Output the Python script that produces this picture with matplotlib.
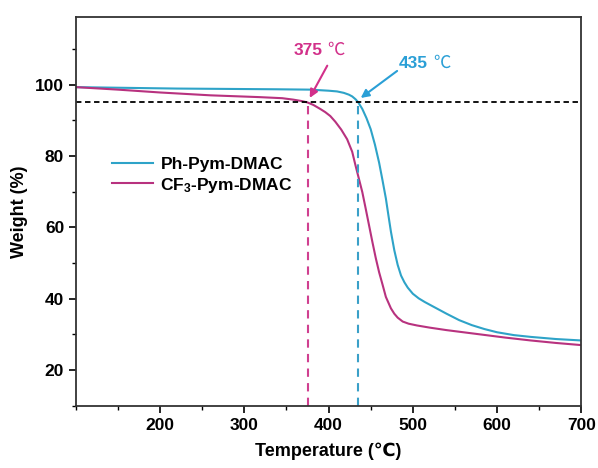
import numpy as np
import matplotlib
matplotlib.use("Agg")
import matplotlib.pyplot as plt
from matplotlib.ticker import MultipleLocator

plt.rcParams['font.family'] = ['Liberation Sans', 'DejaVu Sans']
plt.rcParams['mathtext.default'] = 'regular'

# TGA curves
temp_ph = [100, 160, 220, 280, 338, 378, 400, 410, 418, 424, 428, 432, 435, 440, 445, 450, 455, 460,
           464, 468, 471, 474, 478, 482, 486, 490, 494, 500, 507, 514, 525, 540, 555, 570,
           585, 600, 620, 640, 670, 700]
weight_ph = [99.3, 99.1, 98.9, 98.8, 98.7, 98.6, 98.3, 98.1, 97.7, 97.2, 96.7, 95.9, 95.1, 93.2, 90.6, 87.5, 83.2, 78.1,
             73.2, 68.1, 63.4, 58.8, 53.6, 49.5, 46.5, 44.6, 43.1, 41.4, 40.1, 39.1, 37.7, 35.8, 34.0, 32.6,
             31.5, 30.6, 29.8, 29.3, 28.7, 28.3]

temp_cf3 = [100, 150, 200, 260, 318, 345, 358, 368, 375, 382, 390, 396, 402, 408, 415, 422, 428, 432,
            436, 440, 444, 448, 452, 456, 460, 464, 468, 474, 478, 482, 488, 495, 505,
            520, 540, 560, 580, 610, 640, 670, 700]
weight_cf3 = [99.3, 98.6, 97.8, 97.0, 96.5, 96.2, 95.8, 95.4, 95.0, 94.3, 93.2, 92.3, 91.2, 89.6, 87.4, 84.7, 81.2, 77.3,
              73.6, 69.9, 65.3, 60.6, 55.9, 51.4, 47.4, 44.0, 40.5, 37.3, 35.8, 34.7, 33.6, 33.0, 32.5,
              31.9, 31.2, 30.6, 30.0, 29.1, 28.3, 27.6, 27.0]

labels = ['Ph-Pym-DMAC', 'CF$_{3}$-Pym-DMAC']
td5 = [435, 375]
loss_level = 95

blue = '#2ea3c8'
pink = '#b8327f'
blue_txt = '#2a9fd6'
pink_txt = '#d2308a'

fig = plt.figure(figsize=(5.98, 4.68), dpi=100)
ax = fig.add_axes([0.127, 0.133, 0.845, 0.831])

ax.plot(temp_ph, weight_ph, color=blue, lw=1.5, label=labels[0])
ax.plot(temp_cf3, weight_cf3, color=pink, lw=1.5, label=labels[1])

ax.axhline(loss_level, color='black', lw=1.3, ls=(0, (3, 2)))
ax.plot([td5[1], td5[1]], [10, loss_level], color='#d04090', lw=1.5, ls=(0, (4, 3)))
ax.plot([td5[0], td5[0]], [10, loss_level], color='#3aa0c8', lw=1.5, ls=(0, (4, 3)))

ax.set_xlim(100, 700)
ax.set_ylim(10, 119)
ax.xaxis.set_minor_locator(MultipleLocator(50))
ax.yaxis.set_minor_locator(MultipleLocator(10))
ax.set_xticks([200, 300, 400, 500, 600, 700])
ax.set_yticks([20, 40, 60, 80, 100])
ax.tick_params(which='major', direction='out', length=5, width=1.2, labelsize=12.5)
ax.tick_params(which='minor', direction='out', length=3, width=1.0)
for lab in ax.get_xticklabels() + ax.get_yticklabels():
    lab.set_fontweight('bold')
for sp in ax.spines.values():
    sp.set_linewidth(1.3)
    sp.set_color('#333333')

ax.set_xlabel('Temperature (℃)', fontsize=13, fontweight='bold', labelpad=7)
ax.set_ylabel('Weight (%)', fontsize=13, fontweight='bold', labelpad=5)

leg = ax.legend(loc='upper left', bbox_to_anchor=(0.04, 0.68), frameon=False,
                prop={'weight': 'bold', 'size': 12.5}, handlelength=2.4,
                handletextpad=0.4, labelspacing=0.2)

# onset annotations
ax.annotate('', xy=(376, 95.6), xytext=(400, 106),
            arrowprops=dict(arrowstyle='-|>', color=pink_txt, lw=1.5, mutation_scale=12))
ax.text(393, 109.7, '375', color=pink_txt, fontsize=12.5, fontweight='bold', ha='right', va='center')
ax.text(398, 109.7, '℃', color=pink_txt, fontsize=12.5, ha='left', va='center',
        family=['Noto Sans CJK SC', 'DejaVu Sans'])

ax.annotate('', xy=(435.5, 95.8), xytext=(484, 104.3),
            arrowprops=dict(arrowstyle='-|>', color=blue_txt, lw=1.5, mutation_scale=12))
ax.text(518, 106, '435', color=blue_txt, fontsize=12.5, fontweight='bold', ha='right', va='center')
ax.text(524, 106, '℃', color=blue_txt, fontsize=12.5, ha='left', va='center',
        family=['Noto Sans CJK SC', 'DejaVu Sans'])

fig.savefig('out.png', dpi=100)
